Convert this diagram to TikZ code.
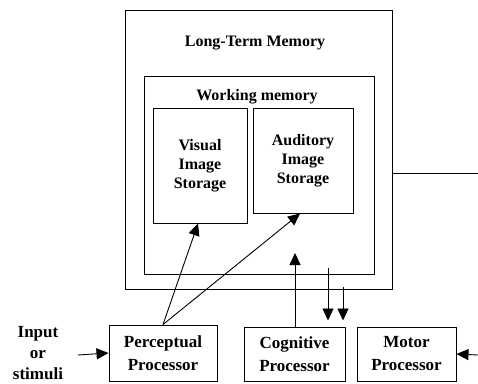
\documentclass[tikz,border=0pt]{standalone}
\usepackage{fontspec}
\setmainfont{Liberation Serif}
\usetikzlibrary{arrows.meta,
                positioning
            }

\begin{document}
\begin{tikzpicture}[x=1pt, y=-1pt,
        box/.style={draw, line width=1pt, align=center, font=\fontsize{16}{19}\selectfont\bfseries},
        title/.style={font=\fontsize{16}{19}\selectfont\bfseries},
        conn/.style={line width=0.9pt, -{Triangle[length=12pt,width=11pt]}}
    ]
            \useasboundingbox (0, 0) rectangle (478, 383);
            % memory boxes
            \node[box, minimum width=267, minimum height=279] (ltm) at (258.5, 149.5) {};
            \node[title] (ltmtitle) at (255, 43) {Long-Term Memory};
            \node[box, minimum width=230, minimum height=198] (wm) at (259, 175) {};
            \node[title] (wmtitle) at (257, 97) {Working memory};
            \node[box, minimum width=94, minimum height=115] (visual) at (200, 165.5) {Visual\\Image\\Storage};
            \node[box, minimum width=100, minimum height=105] (auditory) at (303, 160.5) {Auditory\\Image\\Storage};
            % processors
            \node[box, minimum width=108, minimum height=56, font=\fontsize{17}{23}\selectfont\bfseries] (perc) at (163, 353) {Perceptual\\Processor};
            \node[box, minimum width=101, minimum height=54, font=\fontsize{17}{23}\selectfont\bfseries] (cog) at (294.5, 354) {Cognitive\\Processor};
            \node[box, minimum width=99, minimum height=54, font=\fontsize{17}{23}\selectfont\bfseries] (motor) at (406.5, 354) {Motor\\Processor};
            \node[align=center, font=\fontsize{17}{21}\selectfont\bfseries] (input) at (38, 353) {Input\\or\\stimuli};
            % connectors
            \coordinate (inend) at (78, 355);
            \coordinate (motorend) at (478, 355);
            \coordinate (ltmout) at (392, 173);
            \coordinate (ltmedge) at (478, 173);
            \coordinate (cogtip) at (295, 253);
            \coordinate (wmdown) at (328, 268);
            \coordinate (ltmdown) at (343, 287);
            \draw[conn] (inend) -- (perc.west);
            \draw[conn] (motorend) -- (motor.east);
            \draw[conn] (perc.north) -- ([xshift=-2]visual.south);
            \draw[conn] (perc.north) -- ([xshift=-3]auditory.south);
            \draw[conn] (cog.north -| cogtip) -- (cogtip);
            \draw[conn, shorten >=6] (wmdown) -- (wmdown |- cog.north);
            \draw[conn, shorten >=6] (ltmdown) -- (ltmdown |- cog.north);
            \draw[line width=0.9pt] (ltmout) -- (ltmedge);
        \end{tikzpicture}
\end{document}
